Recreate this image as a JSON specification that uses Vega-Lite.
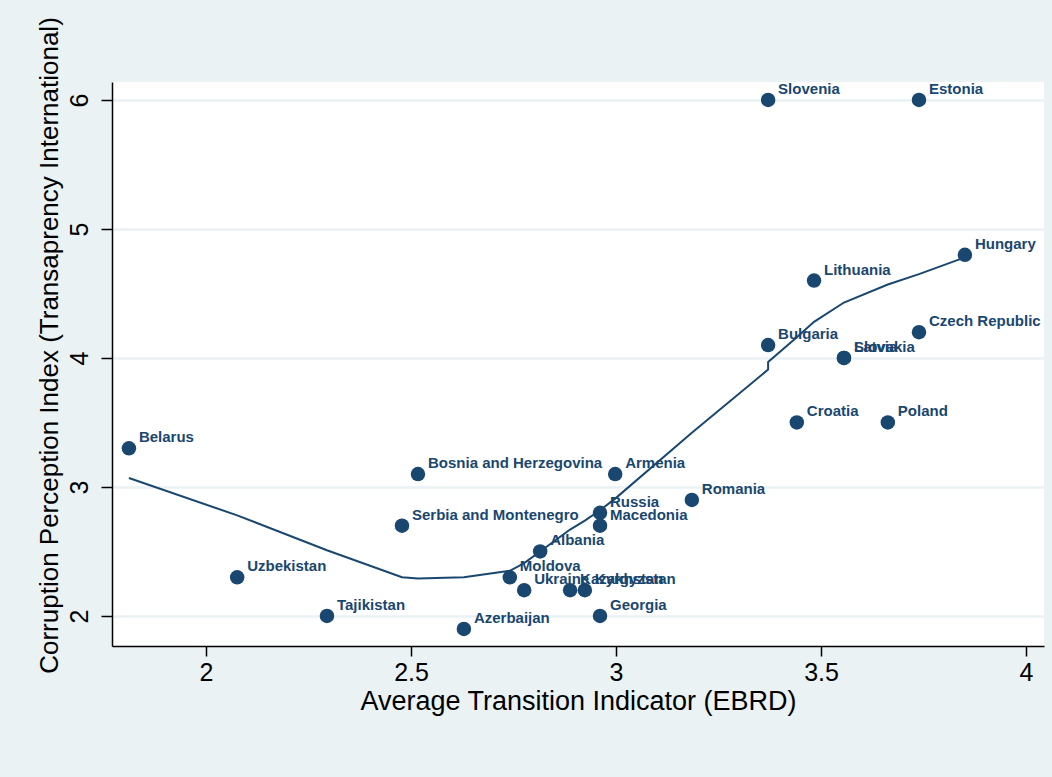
{
  "$schema": "https://vega.github.io/schema/vega-lite/v6.json",
  "width": 932,
  "height": 564,
  "autosize": {"type": "none"},
  "padding": {"left": 112, "top": 82, "right": 8, "bottom": 131},
  "background": "#EAF2F3",
  "config": {
    "view": {"fill": "#FFFFFF", "stroke": null},
    "font": "Liberation Sans"
  },
  "datasets": {
    "countries": [
      {"country": "Belarus", "ebrd": 1.812, "cpi": 3.3},
      {"country": "Uzbekistan", "ebrd": 2.076, "cpi": 2.3},
      {"country": "Tajikistan", "ebrd": 2.295, "cpi": 2.0},
      {"country": "Serbia and Montenegro", "ebrd": 2.478, "cpi": 2.7},
      {"country": "Bosnia and Herzegovina", "ebrd": 2.517, "cpi": 3.1},
      {"country": "Azerbaijan", "ebrd": 2.629, "cpi": 1.9},
      {"country": "Moldova", "ebrd": 2.741, "cpi": 2.3},
      {"country": "Ukraine", "ebrd": 2.776, "cpi": 2.2},
      {"country": "Albania", "ebrd": 2.815, "cpi": 2.5},
      {"country": "Kazakhstan", "ebrd": 2.888, "cpi": 2.2},
      {"country": "Kyrgyzstan", "ebrd": 2.924, "cpi": 2.2},
      {"country": "Georgia", "ebrd": 2.961, "cpi": 2.0},
      {"country": "Russia", "ebrd": 2.961, "cpi": 2.8},
      {"country": "Macedonia", "ebrd": 2.961, "cpi": 2.7},
      {"country": "Armenia", "ebrd": 2.998, "cpi": 3.1},
      {"country": "Romania", "ebrd": 3.185, "cpi": 2.9},
      {"country": "Bulgaria", "ebrd": 3.371, "cpi": 4.1},
      {"country": "Slovenia", "ebrd": 3.371, "cpi": 6.0},
      {"country": "Croatia", "ebrd": 3.441, "cpi": 3.5},
      {"country": "Lithuania", "ebrd": 3.483, "cpi": 4.6},
      {"country": "Latvia", "ebrd": 3.556, "cpi": 4.0},
      {"country": "Slovakia", "ebrd": 3.556, "cpi": 4.0},
      {"country": "Poland", "ebrd": 3.663, "cpi": 3.5},
      {"country": "Czech Republic", "ebrd": 3.739, "cpi": 4.2},
      {"country": "Estonia", "ebrd": 3.739, "cpi": 6.0},
      {"country": "Hungary", "ebrd": 3.851, "cpi": 4.8}
    ],
    "lowess": [
      {"ord": 1, "x": 1.812, "y": 3.07},
      {"ord": 2, "x": 2.076, "y": 2.78},
      {"ord": 3, "x": 2.295, "y": 2.51},
      {"ord": 4, "x": 2.478, "y": 2.30},
      {"ord": 5, "x": 2.517, "y": 2.29},
      {"ord": 6, "x": 2.629, "y": 2.30},
      {"ord": 7, "x": 2.741, "y": 2.35},
      {"ord": 8, "x": 2.776, "y": 2.41},
      {"ord": 9, "x": 2.815, "y": 2.50},
      {"ord": 10, "x": 2.888, "y": 2.67},
      {"ord": 11, "x": 2.924, "y": 2.74},
      {"ord": 12, "x": 2.961, "y": 2.82},
      {"ord": 13, "x": 2.998, "y": 2.91},
      {"ord": 14, "x": 3.185, "y": 3.42},
      {"ord": 15, "x": 3.371, "y": 3.91},
      {"ord": 16, "x": 3.371, "y": 3.97},
      {"ord": 17, "x": 3.441, "y": 4.16},
      {"ord": 18, "x": 3.483, "y": 4.28},
      {"ord": 19, "x": 3.556, "y": 4.43},
      {"ord": 20, "x": 3.663, "y": 4.57},
      {"ord": 21, "x": 3.739, "y": 4.65},
      {"ord": 22, "x": 3.851, "y": 4.78}
    ]
  },
  "encoding": {
    "x": {
      "type": "quantitative",
      "scale": {"domain": [1.7707, 4.0439], "nice": false, "zero": false},
      "axis": {
        "title": "Average Transition Indicator (EBRD)",
        "values": [2, 2.5, 3, 3.5, 4],
        "format": "~g",
        "grid": false,
        "domainColor": "#000000",
        "domainWidth": 1.5,
        "tickColor": "#000000",
        "tickWidth": 1.5,
        "tickSize": 10,
        "labelFontSize": 25,
        "labelColor": "#000000",
        "labelPadding": 4,
        "labelFlush": false,
        "titleFontSize": 27,
        "titleFontWeight": "normal",
        "titleColor": "#000000",
        "titlePadding": 3
      }
    },
    "y": {
      "type": "quantitative",
      "scale": {"domain": [1.7674, 6.1395], "nice": false, "zero": false},
      "axis": {
        "title": "Corruption Perception Index (Transaprency International)",
        "values": [2, 3, 4, 5, 6],
        "format": "~g",
        "grid": true,
        "gridColor": "#EAF2F3",
        "gridWidth": 2.5,
        "domainColor": "#000000",
        "domainWidth": 1.5,
        "tickColor": "#000000",
        "tickWidth": 1.5,
        "tickSize": 11,
        "labelFontSize": 25,
        "labelColor": "#000000",
        "labelAngle": 270,
        "labelAlign": "center",
        "labelBaseline": "alphabetic",
        "labelPadding": 14,
        "labelFlush": false,
        "titleFontSize": 26,
        "titleFontWeight": "normal",
        "titleColor": "#000000",
        "titlePadding": 5,
        "titleY": 263
      }
    }
  },
  "layer": [
    {
      "data": {"name": "lowess"},
      "mark": {"type": "line", "color": "#1A476F", "strokeWidth": 2},
      "encoding": {
        "x": {"field": "x"},
        "y": {"field": "y"},
        "order": {"field": "ord", "type": "quantitative"}
      }
    },
    {
      "data": {"name": "countries"},
      "mark": {"type": "point", "filled": true, "opacity": 1, "color": "#1A476F", "size": 210},
      "encoding": {
        "x": {"field": "ebrd"},
        "y": {"field": "cpi"}
      }
    },
    {
      "data": {"name": "countries"},
      "mark": {"type": "text", "align": "left", "baseline": "middle", "dx": 10, "dy": -11, "fontSize": 15, "fontWeight": "bold", "color": "#1A476F"},
      "encoding": {
        "x": {"field": "ebrd"},
        "y": {"field": "cpi"},
        "text": {"field": "country"}
      }
    }
  ]
}
